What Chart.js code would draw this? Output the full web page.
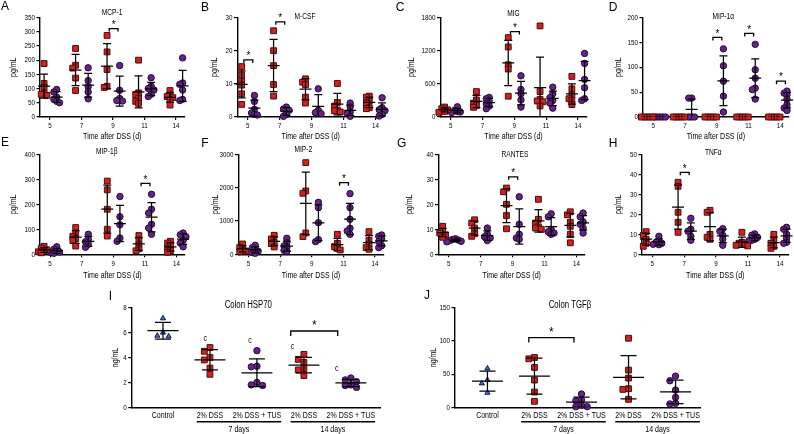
<!DOCTYPE html>
<html>
<head>
<meta charset="utf-8">
<script src="https://cdn.jsdelivr.net/npm/chart.js@4.4.1/dist/chart.umd.min.js"></script>
<style>
  html, body { margin: 0; padding: 0; background: #fff; }
  body { width: 794px; height: 434px; position: relative; overflow: hidden; }
  canvas { position: absolute; }
</style>
</head>
<body>
<script>
// ---- data: cytokines (pg/mL) by day after DSS, 2% DSS vs 2% DSS + TUS ----
const days = ['5', '7', '9', '11', '14'];

const mcp1Dss = [[188, 118, 104, 84, 80, 76], [241, 182, 172, 137, 93], [287, 229, 167, 108, 104], [200, 85, 78, 65, 55, 48], [93, 78, 72, 68, 60, 42]];
const mcp1Tus = [[97, 88, 70, 62, 55, 50], [173, 128, 106, 88, 64], [181, 94, 65, 58, 56], [138, 108, 100, 95, 80, 72], [208, 120, 115, 95, 62, 58]];
const mcsfDss = [[15.2, 12.7, 10.8, 9.6, 7.0, 3.8], [26, 20, 15.5, 9.8, 6.3], [11.5, 10.5, 9.8, 6.0, 4.2], [10.1, 4.4, 3.3, 2.1, 1.9, 1.5], [6.3, 6.0, 4.8, 4.2, 2.8, 2.5]];
const mcsfTus = [[6.5, 4.7, 2.3, 1.2, 0.8, 0.6], [3.0, 2.4, 2.0, 0.8, 0.2], [8.5, 2.0, 1.3, 1.0], [4.2, 3.0, 1.5, 1.1, 0.2], [5.8, 2.8, 2.2, 1.9, 0.8, 0.3]];
const migDss = [[180, 150, 130, 100, 85], [460, 310, 250, 210, 175], [1436, 1267, 945, 867, 376], [1648, 460, 320, 290, 275, 200], [735, 510, 400, 330, 300, 225]];
const migTus = [[185, 120, 100, 90, 80], [355, 330, 280, 240, 200, 150], [745, 497, 420, 310, 180], [540, 420, 350, 300, 250, 160], [1150, 970, 680, 530, 330, 300]];
const mip1aDss = [[0, 0, 0, 0, 0], [0, 0, 0, 0, 0], [0, 0, 0, 0, 0], [0, 0, 0, 0, 0], [0, 0, 0, 0, 0]];
const mip1aTus = [[0, 0, 0, 0, 0], [38, 38, 0, 0, 0], [137, 103, 72, 42, 10], [146, 95, 78, 58, 55, 36], [52, 48, 44, 36, 25, 18, 13]];
const mip1bDss = [[32, 25, 18, 14, 10, 6], [107, 85, 72, 63, 55, 33], [293, 258, 180, 100, 73], [75, 58, 38, 22, 14], [52, 45, 35, 25, 15, 8]];
const mip1bTus = [[30, 20, 12, 9, 6, 4], [80, 60, 50, 40, 28], [231, 150, 118, 65, 52], [240, 180, 165, 120, 105, 80], [85, 78, 70, 55, 45, 30]];
const mip2Dss = [[310, 210, 130, 100, 80], [570, 460, 360, 320, 220], [2750, 1900, 1830, 640, 530], [600, 330, 230, 180, 130], [680, 420, 300, 200, 150]];
const mip2Tus = [[270, 200, 150, 90, 50, 30], [480, 350, 250, 200, 120, 80], [1560, 1400, 950, 440, 380], [1820, 1400, 1050, 780, 700, 600], [580, 540, 460, 380, 260, 200]];
const rantesDss = [[11.2, 9.2, 8.5, 7.8, 6.8], [13.8, 12.5, 10.5, 8.2, 7.2], [26.5, 25, 20, 15.5, 10.2], [22, 14, 12.5, 11, 10.5, 10], [17, 15.8, 12.8, 11.2, 8.0, 4.6]];
const rantesTus = [[6.2, 5.9, 5.7, 5.5, 5.2, 5.0], [10.5, 8.0, 7.0, 6.5, 5.5], [23, 12, 8, 6.5, 6], [16.2, 15, 10, 9, 8.5, 8], [16.5, 15, 13, 12, 10.5, 8.5]];
const tnfDss = [[11.3, 9.5, 7.5, 5.5, 4.0], [36, 34, 21, 16, 11], [22, 21, 10, 8.5, 7.5], [11, 6, 5.5, 5, 4.5, 4.2], [10, 7, 5.5, 4, 3]];
const tnfTus = [[9, 6.8, 6.0, 5.5, 5.0, 4.8], [18, 12.5, 11.5, 9, 7], [12.8, 11.5, 9.5, 7.5, 4.5], [10.2, 9.5, 8.5, 7.5, 7.0, 6.8], [13.5, 12.5, 10, 8, 6, 5.5]];

// significant pairs: [day position (1-5), bracket height]
const mcp1Sig = [[3, 311]];
const mcsfSig = [[1, 17.2], [2, 28.7]];
const migSig = [[3, 1545]];
const mip1aSig = [[3, 160], [4, 168], [5, 72]];
const mip1bSig = [[4, 284]];
const mip2Sig = [[4, 2150]];
const rantesSig = [[3, 31]];
const tnfSig = [[2, 41]];

// ---- colon HSP70 / TGFb (ng/mL) ----
const colonGroups = ['Control', '2% DSS', '2% DSS + TUS', '2% DSS', '2% DSS + TUS'];
const hspControl = [7.15, 6.0, 5.75, 5.7];
const hspDss7 = [4.8, 4.5, 4.0, 3.8, 3.15, 2.65];
const hspTus7 = [4.55, 3.3, 3.25, 2.0, 1.8, 1.75];
const hspDss14 = [4.25, 3.85, 3.6, 3.1, 3.0, 2.55];
const hspTus14 = [2.35, 2.2, 2.05, 1.8, 1.75, 1.6];
const tgfControl = [58.5, 41, 36, 22];
const tgfDss7 = [75, 73, 60, 41, 23, 9];
const tgfTus7 = [20, 11, 10, 3, 1, 1];
const tgfDss14 = [104, 56, 44, 28, 27, 12];
const tgfTus14 = [47, 40, 26, 15, 6, 5];

// ---- styles ----
const FONT = "'Liberation Sans', Arial, sans-serif";
const NARROW_X = 0.78;   // the figure uses a condensed face; squeeze text horizontally
const RED = '#d62020', RED_EDGE = '#4a0c0c';
const PURPLE = '#67238c', PURPLE_EDGE = '#260a36';
const BLUE = '#3f6fd6', BLUE_EDGE = '#101c44';
const dssShift = -0.19, tusShift = 0.21;
const TICK = 8, TITLE = 9;

Chart.defaults.color = '#000';
Chart.defaults.font.family = FONT;

const panelInfo = new Map();

function stats(v) {
  const m = v.reduce((a, b) => a + b, 0) / v.length;
  const sd = Math.sqrt(v.reduce((a, b) => a + (b - m) * (b - m), 0) / (v.length - 1));
  return { mean: m, sd: sd };
}

// side-by-side placement for points that would overlap
function spreadOffsets(values, tol, amp) {
  const order = values.map((v, i) => i).sort((a, b) => values[b] - values[a]);
  const pattern = [0, -1, 1, -2, 2, -3, 3];
  const slot = [];
  const offs = new Array(values.length).fill(0);
  const placed = [];
  order.forEach(i => {
    const used = placed.filter(j => Math.abs(values[j] - values[i]) < tol).map(j => slot[j]);
    let k = 0;
    while (used.includes(k)) k++;
    slot[i] = k;
    offs[i] = pattern[k] * amp;
    placed.push(i);
  });
  return offs;
}

function dataset(points, style, fill, edge, r) {
  return {
    data: points, pointStyle: style, pointRadius: r, pointHoverRadius: r,
    pointBackgroundColor: fill, pointBorderColor: edge, pointBorderWidth: 1,
    showLine: false, clip: false
  };
}

function makeCanvas(id, box) {
  const c = document.createElement('canvas');
  c.id = id;
  c.width = box[2];
  c.height = box[3];
  c.style.left = box[0] + 'px';
  c.style.top = box[1] + 'px';
  c.style.width = box[2] + 'px';
  c.style.height = box[3] + 'px';
  document.body.appendChild(c);
  // condensed text for everything Chart.js writes
  const ctx = c.getContext('2d');
  const raw = ctx.fillText.bind(ctx);
  ctx.rawFillText = raw;
  ctx.fillText = function (text, x, y) {
    this.save();
    this.translate(x, y);
    this.scale(NARROW_X, 1);
    raw(text, 0, 0);
    this.restore();
  };
  return c;
}

const annot = {
  id: 'annot',
  afterDatasetsDraw(chart) {
    const p = panelInfo.get(chart.canvas.id);
    const { ctx, chartArea: ca, scales: { x, y } } = chart;
    // mean +/- SD
    ctx.save();
    ctx.beginPath();
    ctx.rect(0, 0, chart.width, ca.bottom);
    ctx.clip();
    ctx.strokeStyle = '#000';
    ctx.lineWidth = 1.25;
    ctx.beginPath();
    p.bars.forEach(b => {
      const s = stats(b.values);
      const px = x.getPixelForValue(b.x);
      const top = y.getPixelForValue(s.mean + s.sd);
      const bot = y.getPixelForValue(s.mean - s.sd);
      const mid = y.getPixelForValue(s.mean);
      ctx.moveTo(px, top); ctx.lineTo(px, bot);
      ctx.moveTo(px - p.capHalf, top); ctx.lineTo(px + p.capHalf, top);
      ctx.moveTo(px - p.capHalf, bot); ctx.lineTo(px + p.capHalf, bot);
      ctx.moveTo(px - p.meanHalf, mid); ctx.lineTo(px + p.meanHalf, mid);
    });
    ctx.stroke();
    ctx.restore();

    // significance brackets
    ctx.save();
    ctx.strokeStyle = '#000';
    ctx.lineWidth = 1.3;
    ctx.fillStyle = '#000';
    ctx.textAlign = 'center';
    ctx.textBaseline = 'alphabetic';
    ctx.font = p.starSize + 'px ' + FONT;
    p.brackets.forEach(([x1, x2, v]) => {
      const a = x.getPixelForValue(x1), b = x.getPixelForValue(x2), py = y.getPixelForValue(v);
      ctx.beginPath();
      ctx.moveTo(a, py + p.drop); ctx.lineTo(a, py); ctx.lineTo(b, py); ctx.lineTo(b, py + p.drop);
      ctx.stroke();
      ctx.rawFillText('*', (a + b) / 2, py + p.starLift);
    });
    ctx.restore();
  },
  afterDraw(chart) {
    const p = panelInfo.get(chart.canvas.id);
    const { ctx, chartArea: ca, scales: { x, y } } = chart;
    const ox = p.box[0], oy = p.box[1];
    ctx.save();
    ctx.fillStyle = '#000';
    ctx.strokeStyle = '#000';
    ctx.textAlign = 'center';
    ctx.textBaseline = 'middle';
    ctx.font = '12px ' + FONT;
    ctx.rawFillText(p.letter, p.letterAt[0] - ox, p.letterAt[1] - oy);
    ctx.font = p.titleSize + 'px ' + FONT;
    ctx.fillText(p.title, p.titleAt[0] - ox, p.titleAt[1] - oy);
    if (p.spans) {
      ctx.font = p.catSize + 'px ' + FONT;
      const w = s => ctx.measureText(s).width * NARROW_X;
      const lineY = ca.bottom + 14.5;
      p.spans.forEach(([i1, i2, label]) => {
        const l = x.getPixelForValue(i1) - w(p.cats[i1]) / 2;
        const r = x.getPixelForValue(i2) + w(p.cats[i2]) / 2;
        ctx.lineWidth = 1.5;
        ctx.beginPath();
        ctx.moveTo(l, lineY);
        ctx.lineTo(r, lineY);
        ctx.stroke();
        ctx.fillText(label, (l + r) / 2, ca.bottom + 21.8);
      });
      p.marks.forEach(([xv, yv]) => {
        ctx.fillText('c', x.getPixelForValue(xv), y.getPixelForValue(yv));
      });
    }
    ctx.restore();
  }
};

function axisOptions(p, xCfg) {
  const [bx, by, bw, bh] = p.box;
  const [pl, pt, pr, pb] = p.plot;
  const titleLH = TITLE * 1.2;
  return {
    responsive: false,
    animation: false,
    devicePixelRatio: 1,
    events: [],
    layout: { padding: { left: 0, top: pt - by, right: bx + bw - pr, bottom: 0 } },
    plugins: { legend: { display: false }, tooltip: { enabled: false } },
    scales: {
      x: {
        type: 'linear',
        min: xCfg.min,
        max: xCfg.max,
        afterBuildTicks: s => { s.ticks = xCfg.ticks.map(v => ({ value: v })); },
        afterFit: s => { s.height = by + bh - pb; },
        grid: xCfg.tickMarks
          ? { display: true, drawOnChartArea: false, drawTicks: true, tickLength: 3, color: '#000', lineWidth: 1.2 }
          : { display: false, drawTicks: false, tickLength: 0 },
        border: { display: true, color: '#000', width: 1.4 },
        ticks: {
          autoSkip: false, maxRotation: 0, minRotation: 0,
          padding: xCfg.tickPad,
          font: { size: xCfg.tickSize },
          callback: (v, i) => xCfg.labels[i]
        },
        title: xCfg.title
          ? { display: true, text: xCfg.title, font: { size: TITLE }, padding: { top: 0, bottom: xCfg.titlePad } }
          : { display: false }
      },
      y: {
        min: 0,
        max: p.yMax,
        afterFit: s => { s.width = pl - bx; },
        grid: { display: true, drawOnChartArea: false, drawTicks: true, tickLength: 3.5, color: '#000', lineWidth: 1.2 },
        border: { display: true, color: '#000', width: 1.4 },
        ticks: { stepSize: p.yStep, padding: 1.5, font: { size: TICK }, callback: v => String(v) },
        title: {
          display: true, text: p.yTitle, font: { size: TITLE },
          padding: { top: p.yTitleX - bx - titleLH / 2, bottom: 0 }
        }
      }
    }
  };
}

function buildTimePanel(p) {
  const id = 'panel' + p.letter;
  const canvas = makeCanvas(id, p.box);
  const bars = [];
  const mk = (groups, shift) => groups.flatMap((vals, i) => {
    bars.push({ x: i + 1 + shift, values: vals });
    const offs = spreadOffsets(vals, p.yMax * 0.04, 0.09);
    return vals.map((v, k) => ({ x: i + 1 + shift + offs[k], y: v }));
  });
  const dssPts = mk(p.dss, dssShift);
  const tusPts = mk(p.tus, tusShift);
  panelInfo.set(id, Object.assign({}, p, {
    bars: bars,
    brackets: p.sig.map(([d, v]) => [d - 0.12, d + 0.16, v]),
    drop: 3, meanHalf: 6, capHalf: 4, starSize: 10, starLift: -0.8, titleSize: 8.5
  }));
  new Chart(canvas, {
    type: 'scatter',
    data: { datasets: [dataset(dssPts, 'rect', RED, RED_EDGE, 4.1), dataset(tusPts, 'circle', PURPLE, PURPLE_EDGE, 3.2)] },
    options: axisOptions(p, {
      min: 0.68, max: 5.27, ticks: [1, 2, 3, 4, 5], labels: days, tickMarks: true,
      tickPad: 1.2, tickSize: TICK, title: 'Time after DSS (d)', titlePad: p.xTitlePad
    }),
    plugins: [annot]
  });
}

function buildColonPanel(p) {
  const id = 'panel' + p.letter;
  const canvas = makeCanvas(id, p.box);
  const bars = p.groups.map((vals, i) => ({ x: i, values: vals }));
  const pts = p.groups.map((vals, i) => {
    const offs = spreadOffsets(vals, p.yMax * 0.05, 0.12);
    return vals.map((v, k) => ({ x: i + offs[k], y: v }));
  });
  panelInfo.set(id, Object.assign({}, p, {
    bars: bars, drop: 5, meanHalf: 15.5, capHalf: 8, starSize: 12, starLift: -1.5,
    titleSize: 10, catSize: 9, cats: colonGroups,
    spans: [[1, 2, '7 days'], [3, 4, '14 days']]
  }));
  new Chart(canvas, {
    type: 'scatter',
    data: {
      datasets: [
        dataset(pts[0], 'triangle', BLUE, BLUE_EDGE, 3),
        dataset(pts[1].concat(pts[3]), 'rect', RED, RED_EDGE, 4.1),
        dataset(pts[2].concat(pts[4]), 'circle', PURPLE, PURPLE_EDGE, 3.2)
      ]
    },
    options: axisOptions(p, {
      min: p.xMin, max: p.xMax, ticks: [0, 1, 2, 3, 4], labels: colonGroups, tickMarks: false,
      tickPad: 3, tickSize: 9, title: null
    }),
    plugins: [annot]
  });
}

const timePanels = [
  { letter: 'A', title: 'MCP-1', dss: mcp1Dss, tus: mcp1Tus, sig: mcp1Sig, yMax: 350, yStep: 50, yTitle: 'pg/mL',
    box: [0, 0, 195, 145], plot: [40, 17.5, 184.5, 117], yTitleX: 13.5, titleAt: [112, 12.5], letterAt: [5, 7], xTitlePad: 3.1 },
  { letter: 'B', title: 'M-CSF', dss: mcsfDss, tus: mcsfTus, sig: mcsfSig, yMax: 30, yStep: 10, yTitle: 'pg/mL',
    box: [195, 0, 200, 145], plot: [237.5, 17.5, 384, 117], yTitleX: 215, titleAt: [305, 16.5], letterAt: [205, 7.5], xTitlePad: 3.1 },
  { letter: 'C', title: 'MIG', dss: migDss, tus: migTus, sig: migSig, yMax: 1800, yStep: 600, yTitle: 'pg/mL',
    box: [395, 0, 200, 145], plot: [440.5, 17.5, 586.5, 117], yTitleX: 411.7, titleAt: [513.5, 13.3], letterAt: [400, 7.5], xTitlePad: 3.1 },
  { letter: 'D', title: 'MIP-1\u03b1', dss: mip1aDss, tus: mip1aTus, sig: mip1aSig, yMax: 200, yStep: 50, yTitle: 'pg/mL',
    box: [595, 0, 199, 145], plot: [643, 17.5, 790, 117], yTitleX: 618.3, titleAt: [723.3, 17], letterAt: [613, 7.5], xTitlePad: 3.1 },
  { letter: 'E', title: 'MIP-1\u03b2', dss: mip1bDss, tus: mip1bTus, sig: mip1bSig, yMax: 400, yStep: 100, yTitle: 'pg/mL',
    box: [0, 137, 195, 145], plot: [40, 154.3, 185, 254.3], yTitleX: 13.3, titleAt: [106.7, 151.7], letterAt: [5, 143], xTitlePad: 1.1 },
  { letter: 'F', title: 'MIP-2', dss: mip2Dss, tus: mip2Tus, sig: mip2Sig, yMax: 3000, yStep: 1000, yTitle: 'pg/mL',
    box: [195, 137, 200, 145], plot: [238.5, 154.3, 383.5, 254.3], yTitleX: 215.7, titleAt: [303.3, 149.3], letterAt: [205, 143.5], xTitlePad: 1.1 },
  { letter: 'G', title: 'RANTES', dss: rantesDss, tus: rantesTus, sig: rantesSig, yMax: 40, yStep: 10, yTitle: 'pg/mL',
    box: [395, 137, 200, 145], plot: [438.5, 154.3, 585, 254.3], yTitleX: 410, titleAt: [515, 155], letterAt: [401.7, 144], xTitlePad: 1.1 },
  { letter: 'H', title: 'TNF\u03b1', dss: tnfDss, tus: tnfTus, sig: tnfSig, yMax: 50, yStep: 10, yTitle: 'pg/mL',
    box: [595, 137, 199, 145], plot: [642, 154.3, 788.5, 254.3], yTitleX: 618.3, titleAt: [713.3, 152.7], letterAt: [613, 144], xTitlePad: 1.1 }
];

const colonPanels = [
  { letter: 'I', title: 'Colon HSP70', groups: [hspControl, hspDss7, hspTus7, hspDss14, hspTus14],
    yMax: 8, yStep: 2, yTitle: 'ng/mL', xMin: -0.666, xMax: 4.62,
    brackets: [[2.72, 3.72, 6.13]], marks: [[0.9, 5.5], [1.85, 5.35], [2.76, 4.9], [3.7, 3.1]],
    box: [100, 280, 295, 154], plot: [131.7, 307.7, 380, 407.3], yTitleX: 116, titleAt: [248.3, 305], letterAt: [110.5, 296.7] },
  { letter: 'J', title: 'Colon TGF\u03b2', groups: [tgfControl, tgfDss7, tgfTus7, tgfDss14, tgfTus14],
    yMax: 150, yStep: 50, yTitle: 'ng/mL', xMin: -0.69, xMax: 4.52,
    brackets: [[0.88, 1.84, 105]], marks: [],
    box: [400, 280, 320, 154], plot: [455, 307.7, 700, 407.3], yTitleX: 433.3, titleAt: [570, 305], letterAt: [427, 296] }
];

timePanels.forEach(buildTimePanel);
colonPanels.forEach(buildColonPanel);
</script>
</body>
</html>
